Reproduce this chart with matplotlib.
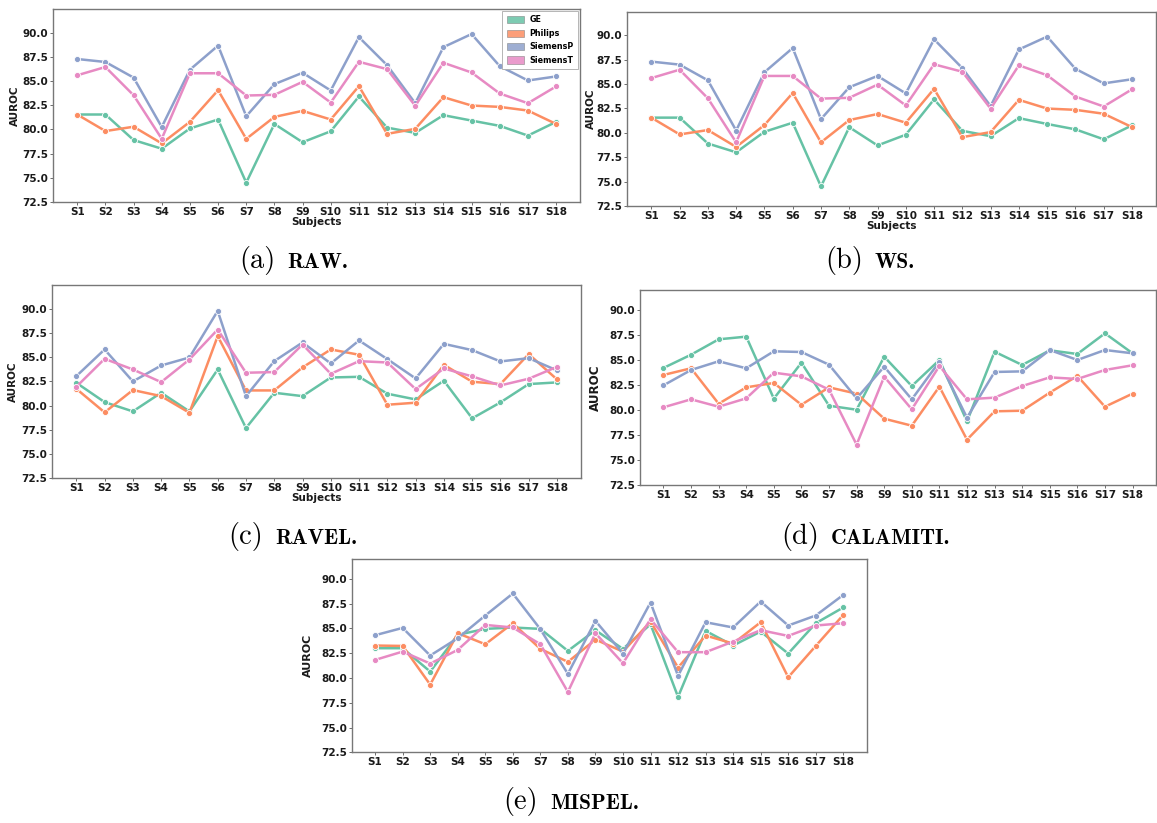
import matplotlib
matplotlib.use("Agg")
import matplotlib.pyplot as plt
from matplotlib.patches import Patch

# ---------------- data ----------------
subjects = ["S1", "S2", "S3", "S4", "S5", "S6", "S7", "S8", "S9", "S10",
            "S11", "S12", "S13", "S14", "S15", "S16", "S17", "S18"]
scanners = ["GE", "Philips", "SiemensP", "SiemensT"]

# (a) RAW
ge_raw = [81.55, 81.55, 78.9, 78.0, 80.1, 81.03, 74.48, 80.57, 78.67, 79.81, 83.42, 80.19, 79.64, 81.48, 80.92, 80.37, 79.36, 80.78]
philips_raw = [81.55, 79.83, 80.28, 78.55, 80.79, 84.07, 79.02, 81.30, 81.93, 81.03, 84.49, 79.54, 80.06, 83.35, 82.48, 82.34, 81.96, 80.57]
siemensp_raw = [87.31, 87.0, 85.38, 80.25, 86.2, 88.7, 81.37, 84.70, 85.88, 84.04, 89.58, 86.67, 82.72, 88.54, 89.9, 86.57, 85.08, 85.5]
siemenst_raw = [85.62, 86.48, 83.55, 79.03, 85.83, 85.83, 83.52, 83.59, 84.94, 82.79, 87.02, 86.26, 82.45, 86.92, 85.91, 83.73, 82.72, 84.46]

# (b) WS
ge_ws = [81.55, 81.55, 78.9, 78.0, 80.1, 81.03, 74.5, 80.57, 78.7, 79.8, 83.42, 80.2, 79.65, 81.5, 80.9, 80.35, 79.33, 80.76]
philips_ws = [81.55, 79.83, 80.28, 78.55, 80.79, 84.07, 79.02, 81.30, 81.92, 81.03, 84.5, 79.55, 80.07, 83.37, 82.48, 82.35, 81.95, 80.58]
siemensp_ws = [87.29, 86.98, 85.37, 80.23, 86.2, 88.68, 81.4, 84.66, 85.82, 84.03, 89.57, 86.62, 82.73, 88.53, 89.85, 86.55, 85.06, 85.48]
siemenst_ws = [85.6, 86.46, 83.53, 79.02, 85.82, 85.82, 83.5, 83.58, 84.93, 82.8, 87.01, 86.25, 82.47, 86.91, 85.89, 83.71, 82.69, 84.45]

# (c) RAVEL
ge_ravel = [82.35, 80.35, 79.39, 81.32, 79.39, 83.73, 77.67, 81.32, 80.97, 82.9, 82.97, 81.22, 80.63, 82.56, 78.67, 80.32, 82.22, 82.39]
philips_ravel = [81.73, 79.29, 81.6, 80.97, 79.25, 87.18, 81.56, 81.56, 83.94, 85.8, 85.25, 80.08, 80.29, 84.21, 82.46, 82.22, 85.32, 82.7]
siemensp_ravel = [83.04, 85.8, 82.49, 84.14, 84.97, 89.79, 80.97, 84.59, 86.52, 84.35, 86.73, 84.8, 82.8, 86.38, 85.73, 84.56, 84.9, 83.63]
siemenst_ravel = [81.94, 84.83, 83.73, 82.42, 84.76, 87.86, 83.39, 83.46, 86.31, 83.28, 84.59, 84.45, 81.7, 83.83, 83.01, 82.08, 82.77, 84.0]

# (d) CALAMITI
ge_calamiti = [84.19, 85.52, 87.06, 87.33, 81.12, 84.72, 80.41, 80.01, 85.32, 82.38, 84.99, 78.84, 85.82, 84.49, 85.96, 85.59, 87.66, 85.66]
philips_calamiti = [83.49, 84.16, 80.61, 82.25, 82.69, 80.51, 82.25, 81.62, 79.11, 78.41, 82.32, 77.01, 79.85, 79.91, 81.72, 83.39, 80.31, 81.62]
siemensp_calamiti = [82.45, 83.99, 84.86, 84.16, 85.86, 85.79, 84.52, 81.15, 84.32, 81.05, 84.82, 79.21, 83.79, 83.85, 85.99, 84.99, 85.99, 85.66]
siemenst_calamiti = [80.25, 81.05, 80.31, 81.15, 83.72, 83.35, 82.02, 76.51, 83.32, 80.05, 84.39, 81.05, 81.22, 82.38, 83.25, 83.09, 83.99, 84.46]

# (e) MISPEL
ge_mispel = [83.0, 83.0, 80.64, 84.35, 84.95, 85.09, 84.95, 82.73, 84.82, 82.93, 85.42, 78.09, 84.75, 83.27, 84.68, 82.46, 85.52, 87.11]
philips_mispel = [83.27, 83.23, 79.33, 84.51, 83.4, 85.52, 82.93, 81.62, 83.87, 82.66, 85.69, 81.05, 84.28, 83.47, 85.62, 80.07, 83.23, 86.36]
siemensp_mispel = [84.31, 85.05, 82.26, 84.01, 86.3, 88.52, 84.92, 80.41, 85.76, 82.46, 87.61, 80.21, 85.62, 85.09, 87.71, 85.29, 86.3, 88.38]
siemenst_mispel = [81.82, 82.66, 81.45, 82.83, 85.35, 85.09, 83.4, 78.59, 84.51, 81.48, 85.93, 82.6, 82.6, 83.67, 84.82, 84.24, 85.29, 85.52]

yticks = [72.5, 75.0, 77.5, 80.0, 82.5, 85.0, 87.5, 90.0]
captions = [("(a)", "RAW."), ("(b)", "WS."), ("(c)", "RAVEL."),
            ("(d)", "CALAMITI."), ("(e)", "MISPEL.")]

# ---------------- style ----------------
colors = ["#66c2a5", "#fc8d62", "#8da0cb", "#e78ac3"]
W, H = 1157, 823
fig = plt.figure(figsize=(W / 100, H / 100), dpi=100)
fig.patch.set_facecolor("white")


def add_px_axes(l, t, r, b):
    return fig.add_axes([l / W, 1 - b / H, (r - l) / W, (b - t) / H])


panels = [
    dict(box=(53.3, 9.0, 580.0, 201.7), ytop=92.5,
         series=[ge_raw, philips_raw, siemensp_raw, siemenst_raw],
         xlabel=True, legend=True, ylpad=1.5, ylsize=7.5),
    dict(box=(627.3, 11.7, 1156.0, 206.0), ytop=92.4,
         series=[ge_ws, philips_ws, siemensp_ws, siemenst_ws],
         xlabel=True, legend=False, ylpad=0.3, ylsize=7.5),
    dict(box=(52.3, 284.7, 581.0, 478.0), ytop=92.5,
         series=[ge_ravel, philips_ravel, siemensp_ravel, siemenst_ravel],
         xlabel=True, legend=False, ylpad=2.5, ylsize=7.5),
    dict(box=(640.0, 290.0, 1156.0, 484.7), ytop=92.0,
         series=[ge_calamiti, philips_calamiti, siemensp_calamiti, siemenst_calamiti],
         xlabel=False, legend=False, ylpad=5, ylsize=8.6),
    dict(box=(351.7, 559.0, 866.7, 752.3), ytop=92.0,
         series=[ge_mispel, philips_mispel, siemensp_mispel, siemenst_mispel],
         xlabel=False, legend=False, ylpad=6, ylsize=8.0),
]

x = list(range(len(subjects)))
for p in panels:
    ax = add_px_axes(*p["box"])
    for vals, c in zip(p["series"], colors):
        ax.plot(x, vals, color=c, lw=1.8, marker="o", markersize=4.4,
                markeredgecolor="white", markeredgewidth=0.6, zorder=3)
    ax.set_xlim(-0.85, 17.85)
    ax.set_ylim(72.5, p["ytop"])
    ax.set_xticks(x)
    ax.set_xticklabels(subjects)
    ax.set_yticks(yticks)
    ax.set_yticklabels([f"{v:.1f}" for v in yticks])
    ax.tick_params(axis="both", labelsize=7.5, length=2, width=0.6, pad=1.5,
                   color="#555555", labelcolor="#1a1a1a")
    for lab in ax.get_xticklabels() + ax.get_yticklabels():
        lab.set_fontweight("bold")
    for s in ax.spines.values():
        s.set_color("#777777")
        s.set_linewidth(1.0)
    ax.set_ylabel("AUROC", fontsize=p["ylsize"], fontweight="bold",
                  labelpad=p["ylpad"], color="#1a1a1a")
    if p["xlabel"]:
        ax.set_xlabel("Subjects", fontsize=7.5, fontweight="bold",
                      labelpad=0.3, color="#1a1a1a")
    if p["legend"]:
        handles = [Patch(facecolor=c, edgecolor="#777777", linewidth=0.4,
                         alpha=0.85, label=n) for c, n in zip(colors, scanners)]
        leg = ax.legend(handles=handles, loc="upper right",
                        prop={"weight": "bold", "size": 5.8},
                        borderaxespad=0.25, handlelength=2.2, handleheight=1.0,
                        labelspacing=0.55, handletextpad=0.6, borderpad=0.55,
                        fancybox=False, framealpha=1.0, edgecolor="#aaaaaa")
        leg.get_frame().set_linewidth(0.6)

# ---------------- captions ----------------
cap_pos = [(294, 268), (870, 268), (293, 544), (866, 544), (571, 809)]
renderer = fig.canvas.get_renderer()
for (pre, suf), (cx, by) in zip(captions, cap_pos):
    t1 = fig.text(0, 1 - by / H, pre, family="cmr10", fontsize=20.5,
                  ha="left", va="baseline")
    t2 = fig.text(0, 1 - by / H, suf, family="cmb10", fontsize=15.5,
                  ha="left", va="baseline")
    w1 = t1.get_window_extent(renderer).width
    w2 = t2.get_window_extent(renderer).width
    gap = 12
    x0 = cx - (w1 + gap + w2) / 2
    t1.set_x(x0 / W)
    t2.set_x((x0 + w1 + gap) / W)

fig.savefig("out.png", dpi=100, facecolor="white")
